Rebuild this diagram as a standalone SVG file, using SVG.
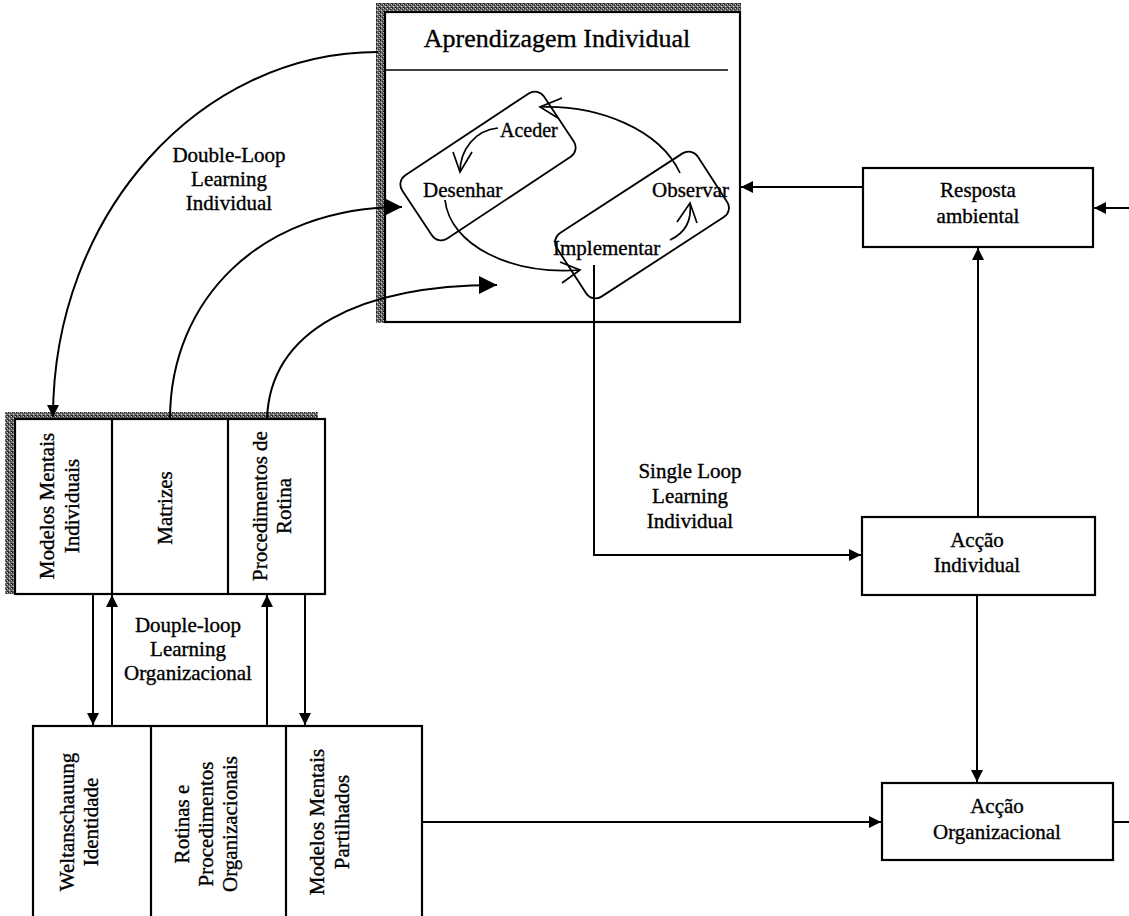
<svg xmlns="http://www.w3.org/2000/svg" width="1129" height="916" viewBox="0 0 1129 916">
  <style>
    .box { fill: #ffffff; stroke: #000000; stroke-width: 2.2; }
    .line { fill: none; stroke: #000000; stroke-width: 2; }
    .thin { fill: none; stroke: #000000; stroke-width: 1.7; }
    .rr { fill: none; stroke: #000000; stroke-width: 1.8; }
    .t { font-family: "Liberation Serif", "Times New Roman", serif; font-size: 21px; fill: #000000; stroke: #000000; stroke-width: 0.35; }
    .c { text-anchor: middle; }
    .title { font-size: 26px; }
  </style>
  <defs>
    <pattern id="grain" width="4" height="4" patternUnits="userSpaceOnUse">
      <rect width="4" height="4" fill="#6e6e6e"/>
      <rect x="0" y="0" width="1" height="1" fill="#1a1a1a"/>
      <rect x="2" y="1" width="1" height="1" fill="#262626"/>
      <rect x="1" y="2" width="1" height="1" fill="#e0e0e0"/>
      <rect x="3" y="3" width="1" height="1" fill="#1a1a1a"/>
      <rect x="3" y="0" width="1" height="1" fill="#c8c8c8"/>
      <rect x="0" y="3" width="1" height="1" fill="#303030"/>
    </pattern>
    <marker id="arrS" viewBox="0 0 10 10" refX="10" refY="5" markerWidth="19" markerHeight="12" markerUnits="userSpaceOnUse" orient="auto">
      <path d="M0,0 L10,5 L0,10 z" fill="#000000"/>
    </marker>
    <marker id="arrL" viewBox="0 0 10 10" refX="10" refY="5" markerWidth="22" markerHeight="18" markerUnits="userSpaceOnUse" orient="auto">
      <path d="M0,0 L10,5 L0,10 z" fill="#000000"/>
    </marker>
  </defs>

  <rect width="1129" height="916" fill="#ffffff"/>

  <!-- Individual learning panel -->
  <g id="aprendizagem">
    <rect x="376" y="3" width="365" height="10" fill="url(#grain)"/>
    <rect x="376" y="3" width="10" height="320" fill="url(#grain)"/>
    <rect class="box" x="385" y="12" width="355" height="310"/>
    <line class="thin" x1="385" y1="70" x2="728" y2="70"/>
    <text class="t title c" x="557" y="47">Aprendizagem Individual</text>
    <rect class="rr" x="403" y="128" width="170" height="76" rx="11" transform="rotate(-33.5 488 166)"/>
    <rect class="rr" x="558" y="187" width="168" height="76" rx="11" transform="rotate(-33 642 225)"/>
    <text class="t" x="500" y="137" style="font-size:20px">Aceder</text>
    <text class="t" x="423" y="197">Desenhar</text>
    <text class="t" x="652" y="197">Observar</text>
    <text class="t" x="553" y="255">Implementar</text>
    <!-- inner cycle arrows -->
    <path class="thin" d="M498,128 C475,130 460,150 460,172"/>
    <polyline class="thin" points="453,152 460,172 472,152"/>
    <path class="thin" d="M670,240 C685,233 692,220 690,203"/>
    <polyline class="thin" points="677,222 690,203 697,223"/>
    <path class="thin" d="M680,173 C660,130 600,105 540,107"/>
    <polyline class="thin" points="562,98 540,107 558,118"/>
    <path class="thin" d="M445,200 C450,245 510,275 580,270"/>
    <polyline class="thin" points="560,262 580,270 562,283"/>
  </g>

  <g id="resposta-ambiental">
    <rect class="box" x="863" y="168" width="230" height="79"/>
    <text class="t c" x="978" y="197">Resposta</text>
    <text class="t c" x="978" y="223">ambiental</text>
  </g>

  <g id="accao-individual">
    <rect class="box" x="862" y="517" width="233" height="78"/>
    <text class="t c" x="977" y="547">Acção</text>
    <text class="t c" x="977" y="572">Individual</text>
  </g>

  <g id="accao-organizacional">
    <rect class="box" x="882" y="783" width="231" height="77"/>
    <text class="t c" x="997" y="813">Acção</text>
    <text class="t c" x="997" y="839">Organizacional</text>
  </g>

  <!-- Individual memory columns -->
  <g id="memoria-individual">
    <rect x="5" y="412" width="313" height="8" fill="url(#grain)"/>
    <rect x="5" y="412" width="10" height="182" fill="url(#grain)"/>
    <rect class="box" x="15" y="419" width="310" height="175"/>
    <line class="box" x1="112" y1="419" x2="112" y2="594"/>
    <line class="box" x1="228" y1="419" x2="228" y2="594"/>
    <g transform="translate(54 506) rotate(-90)">
      <text class="t c"><tspan x="0" y="0">Modelos Mentais</tspan><tspan x="0" y="25">Individuais</tspan></text>
    </g>
    <g transform="translate(172 508) rotate(-90)">
      <text class="t c" x="0" y="0">Matrizes</text>
    </g>
    <g transform="translate(267 506) rotate(-90)">
      <text class="t c"><tspan x="0" y="0">Procedimentos de</tspan><tspan x="0" y="24">Rotina</tspan></text>
    </g>
  </g>

  <!-- Organizational memory columns -->
  <g id="memoria-organizacional">
    <rect class="box" x="33" y="726" width="389" height="210"/>
    <line class="box" x1="151" y1="726" x2="151" y2="936"/>
    <line class="box" x1="286" y1="726" x2="286" y2="936"/>
    <g transform="translate(74 822) rotate(-90)">
      <text class="t c"><tspan x="0" y="0">Weltanschauung</tspan><tspan x="0" y="24">Identidade</tspan></text>
    </g>
    <g transform="translate(189 824) rotate(-90)">
      <text class="t c"><tspan x="0" y="0">Rotinas e</tspan><tspan x="0" y="24">Procedimentos</tspan><tspan x="0" y="48">Organizacionais</tspan></text>
    </g>
    <g transform="translate(324 822) rotate(-90)">
      <text class="t c"><tspan x="0" y="0">Modelos Mentais</tspan><tspan x="0" y="25">Partilhados</tspan></text>
    </g>
  </g>

  <!-- Loop labels -->
  <g id="labels">
    <text class="t c"><tspan x="229" y="162">Double-Loop</tspan><tspan x="229" y="186">Learning</tspan><tspan x="229" y="210">Individual</tspan></text>
    <text class="t c"><tspan x="690" y="478">Single Loop</tspan><tspan x="690" y="503">Learning</tspan><tspan x="690" y="528">Individual</tspan></text>
    <text class="t c"><tspan x="188" y="632">Douple-loop</tspan><tspan x="188" y="656">Learning</tspan><tspan x="188" y="680">Organizacional</tspan></text>
  </g>

  <!-- Connectors -->
  <g id="connectors">
    <path class="line" d="M378,52 C199,52 53,215 53,417" marker-end="url(#arrS)"/>
    <path class="line" d="M170,419 C170,300 260,207 402,207" marker-end="url(#arrL)"/>
    <path class="line" d="M267,419 C270,330 360,285 497,285" marker-end="url(#arrL)"/>
    <path class="line" d="M594,265 L594,555 L861,555" marker-end="url(#arrS)"/>
    <path class="line" d="M863,187 L741,187" marker-end="url(#arrS)"/>
    <path class="line" d="M1129,208 L1094,208" marker-end="url(#arrS)"/>
    <path class="line" d="M978,517 L978,248" marker-end="url(#arrS)"/>
    <path class="line" d="M977,595 L977,782" marker-end="url(#arrS)"/>
    <path class="line" d="M422,822 L881,822" marker-end="url(#arrS)"/>
    <path class="line" d="M1113,822 L1129,822"/>
    <path class="line" d="M93,594 L93,725" marker-end="url(#arrS)"/>
    <path class="line" d="M112,726 L112,595" marker-end="url(#arrS)"/>
    <path class="line" d="M267,726 L267,595" marker-end="url(#arrS)"/>
    <path class="line" d="M305,594 L305,725" marker-end="url(#arrS)"/>
  </g>
</svg>
